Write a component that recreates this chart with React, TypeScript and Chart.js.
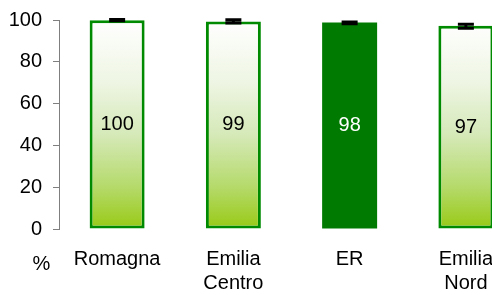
import React, { useEffect, useRef } from "react";
import { Chart, registerables } from "chart.js";

Chart.register(...registerables);

const categories: (string | string[])[] = ["Romagna", ["Emilia", "Centro"], "ER", ["Emilia", "Nord"]];
const values = [99.9, 99.3, 98.8, 97.3];
const valueLabels = ["100", "99", "98", "97"];
const errLow = [99.6, 98.6, 98.2, 96.0];
const errHigh = [100.2, 100.1, 99.1, 98.0];
const highlight = [false, false, true, false];
const yTicks = [0, 20, 40, 60, 80, 100];
const axisUnit = "%";

const FONT = "'Liberation Sans', Arial, sans-serif";

const extrasPlugin = {
  id: "extras",
  afterDatasetsDraw(chart: any) {
    const ctx = chart.ctx;
    const meta = chart.getDatasetMeta(0);
    const yScale = chart.scales.y;
    ctx.save();
    meta.data.forEach((bar: any, i: number) => {
      const x = bar.x;
      const mid = (bar.y + bar.base) / 2;
      ctx.font = `20px ${FONT}`;
      ctx.fillStyle = highlight[i] ? "#ffffff" : "#000000";
      ctx.textAlign = "center";
      ctx.textBaseline = "middle";
      ctx.fillText(valueLabels[i], x, mid);
      const yl = yScale.getPixelForValue(errLow[i]);
      const yh = yScale.getPixelForValue(errHigh[i]);
      ctx.strokeStyle = "#000000";
      ctx.lineWidth = 3;
      ctx.beginPath();
      ctx.moveTo(x, yl);
      ctx.lineTo(x, yh);
      ctx.moveTo(x - 8, yl);
      ctx.lineTo(x + 8, yl);
      ctx.moveTo(x - 8, yh);
      ctx.lineTo(x + 8, yh);
      ctx.stroke();
    });
    const area = chart.chartArea;
    ctx.font = `20px ${FONT}`;
    ctx.fillStyle = "#000000";
    ctx.textAlign = "center";
    ctx.textBaseline = "middle";
    ctx.fillText(axisUnit, area.left - 17.5, area.bottom + 35);
    ctx.restore();
  },
};

export default function App() {
  const ref = useRef<HTMLCanvasElement | null>(null);

  useEffect(() => {
    if (!ref.current) return;
    const chart = new Chart(ref.current, {
      type: "bar",
      data: {
        labels: categories,
        datasets: [
          {
            data: values,
            backgroundColor: (c: any) => {
              const i = c.dataIndex;
              if (highlight[i]) return "#007a00";
              const area = c.chart.chartArea;
              if (!area) return "#cce699";
              const g = c.chart.ctx.createLinearGradient(0, area.top, 0, area.bottom);
              g.addColorStop(0, "#ffffff");
              g.addColorStop(0.3, "#eef5e3");
              g.addColorStop(0.55, "#d5e9b8");
              g.addColorStop(0.8, "#b5da6a");
              g.addColorStop(1, "#98c914");
              return g;
            },
            borderColor: (c: any) => (highlight[c.dataIndex] ? "#007a00" : "#008a00"),
            borderWidth: (c: any) => (highlight[c.dataIndex] ? 0 : 3),
            borderSkipped: false,
            barPercentage: 1,
            categoryPercentage: 0.473,
          },
        ],
      },
      options: {
        responsive: false,
        animation: false,
        events: [],
        layout: { padding: { top: 20, left: 0, right: 0, bottom: 0 } },
        plugins: { legend: { display: false }, tooltip: { enabled: false } },
        scales: {
          x: {
            grid: { display: false },
            border: { display: false },
            ticks: {
              font: { family: FONT, size: 20, lineHeight: 1.2 },
              color: "#000000",
              padding: 10,
              maxRotation: 0,
              autoSkip: false,
            },
            afterFit: (s: any) => {
              s.height = 66;
              s.paddingLeft = 0;
              s.paddingRight = 0;
            },
          },
          y: {
            min: 0,
            max: 100,
            afterBuildTicks: (s: any) => {
              s.ticks = yTicks.map((v) => ({ value: v }));
            },
            grid: { display: true, drawOnChartArea: false, tickLength: 6, color: "#7f7f7f", lineWidth: 1 },
            border: { display: true, color: "#7f7f7f", width: 1 },
            ticks: {
              font: { family: FONT, size: 20 },
              color: "#000000",
              padding: 11,
            },
            afterFit: (s: any) => {
              s.width = 59;
              s.paddingTop = 0;
              s.paddingBottom = 0;
            },
          },
        },
      },
      plugins: [extrasPlugin],
    });
    return () => chart.destroy();
  }, []);

  return (
    <div
      style={{
        position: "fixed",
        left: 0,
        top: 0,
        width: 492,
        height: 295,
        overflow: "hidden",
        background: "#ffffff",
      }}
    >
      <canvas ref={ref} width={524} height={295} style={{ width: 524, height: 295, display: "block" }} />
    </div>
  );
}
